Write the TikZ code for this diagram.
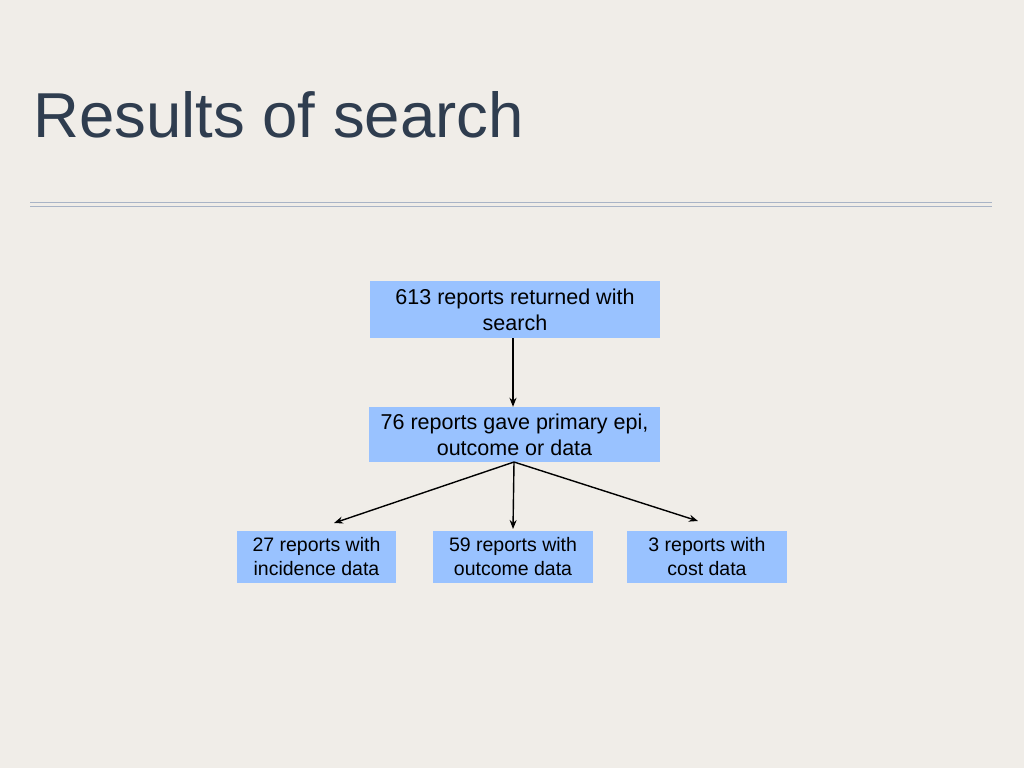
\documentclass[tikz,border=0pt]{standalone}
\usepackage{fontspec}
\setmainfont{Liberation Sans}
\usetikzlibrary{arrows.meta}
\definecolor{bg}{HTML}{F0EDE8}
\definecolor{boxc}{HTML}{99C2FF}
\definecolor{titlec}{HTML}{2F3D4F}
\definecolor{rulec}{HTML}{A9B4C6}
\begin{document}
\begin{tikzpicture}[x=1pt,y=-1pt,
  box/.style={fill=boxc,align=center,inner sep=0pt,font=\fontsize{21.5}{26}\selectfont},
  sbox/.style={fill=boxc,align=center,inner sep=0pt,font=\fontsize{19.5}{24}\selectfont},
  conn/.style={-{Stealth[length=9pt,width=7pt]},line width=1.4pt}]
\fill[bg] (0,0) rectangle (1024,768);
\useasboundingbox (0,0) rectangle (1024,768);
\node[anchor=base west,text=titlec,font=\fontsize{63.5}{70}\selectfont,inner sep=0pt] (title) at (33,137) {Results of search};
\draw[rulec,line width=1pt] (30,202.5) -- (992,202.5);
\draw[rulec,line width=1pt] (30,206) -- (992,206);
\node[box,minimum width=290pt,minimum height=57pt] (a) at (515,309.5) {613 reports returned with\\search};
\node[box,minimum width=291pt,minimum height=55pt] (b) at (514.5,434.5) {76 reports gave primary epi,\\outcome or data};
\node[sbox,minimum width=159pt,minimum height=52pt] (c) at (316.5,557) {27 reports with\\incidence data};
\node[sbox,minimum width=160pt,minimum height=52pt] (d) at (513,557) {59 reports with\\outcome data};
\node[sbox,minimum width=160pt,minimum height=52pt] (e) at (707,557) {3 reports with\\cost data};
\draw[conn] (a.south -| 513,0) -- (b.north -| 513,0);
\coordinate (bs) at (514,462);
\draw[conn] (bs) -- (334,523);
\draw[conn] (bs) -- (513,529);
\draw[conn] (bs) -- (698,521);
\end{tikzpicture}
\end{document}
